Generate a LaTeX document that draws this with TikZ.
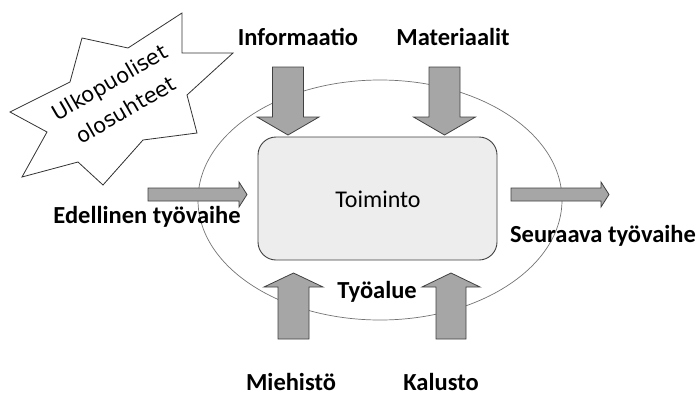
\documentclass[tikz,border=0pt]{standalone}
\usepackage{fontspec}
\setmainfont{Carlito}
\newfontfamily\starfont{DejaVu Sans}
\begin{document}
\begin{tikzpicture}[x=1pt,y=-1pt,
  blockarrow/.style={draw=black!75, fill=black!35, line width=0.8pt, line join=miter},
  label/.style={font=\fontsize{24.5}{29}\selectfont\bfseries, inner sep=0pt, anchor=base},
  area/.style={draw=black!55, line width=0.7pt},
  core/.style={draw=black!75, fill=black!7, line width=0.9pt, rounded corners=18pt},
  burst/.style={draw=black!80, fill=white, line width=0.8pt, line join=miter}]
\useasboundingbox (0,0) rectangle (699,394);

% work area
\draw[area] (380,200) ellipse [x radius=182, y radius=120];

% activity box
\draw[core] (258,137) rectangle (497,260);
\node[inner sep=0pt, anchor=base, font=\fontsize{24}{29}\selectfont] (act) at (378,207) {Toiminto};

% external conditions burst
\draw[burst] (182,13) -- (182,53) -- (233,53) -- (187,95) -- (197,133) -- (143,140)
  -- (103,185) -- (78,162) -- (22,177) -- (47,132) -- (10,112) -- (70,82)
  -- (82,38) -- (128,48) -- cycle;
\node[rotate=30, align=center, inner sep=0pt,
  font=\starfont\fontsize{21}{32}\selectfont] (ext) at (117.5,96) {Ulkopuoliset\\olosuhteet};

% inputs from above
\draw[blockarrow] (272.5,67) -- (303.5,67) -- (303.5,117) -- (319,117) -- (288,135)
  -- (257,117) -- (272.5,117) -- cycle;
\draw[blockarrow] (429,67) -- (460,67) -- (460,117) -- (475.5,117) -- (444.5,135)
  -- (413.5,117) -- (429,117) -- cycle;

% inputs from below
\draw[blockarrow] (278,339) -- (309,339) -- (309,287) -- (323,287) -- (293.5,273)
  -- (264,287) -- (278,287) -- cycle;
\draw[blockarrow] (436,339) -- (466,339) -- (466,287) -- (480,287) -- (451,273)
  -- (422,287) -- (436,287) -- cycle;

% previous and next phase
\draw[blockarrow] (148,188) -- (239,188) -- (239,182) -- (247,194.5) -- (239,207)
  -- (239,201) -- (148,201) -- cycle;
\draw[blockarrow] (511,188) -- (601,188) -- (601,182) -- (609,194.5) -- (601,207)
  -- (601,201) -- (511,201) -- cycle;

% labels
\node[label] (info) at (298,45) {Informaatio};
\node[label] (mat) at (453,45) {Materiaalit};
\node[label] (prev) at (147,223) {Edellinen työvaihe};
\node[label] (next) at (603,242) {Seuraava työvaihe};
\node[label] (area) at (377,298) {Työalue};
\node[label] (crew) at (291,390) {Miehistö};
\node[label] (equip) at (441,390) {Kalusto};
\end{tikzpicture}
\end{document}
